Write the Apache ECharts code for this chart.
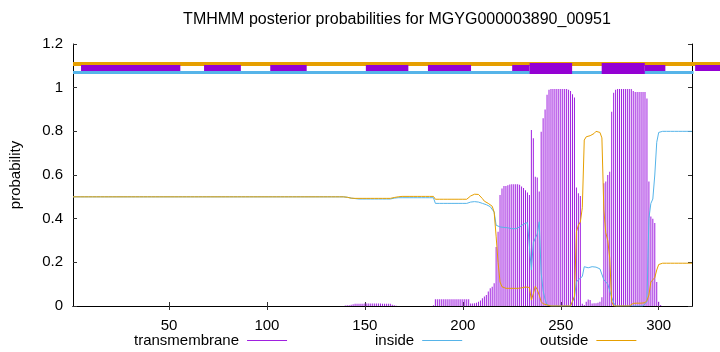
<!DOCTYPE html>
<html>
<head>
<meta charset="utf-8">
<script src="https://cdn.jsdelivr.net/npm/echarts@6/dist/echarts.min.js"></script>
<style>
  html, body { margin: 0; padding: 0; background: #fff; }
  #main { width: 720px; height: 352px; }
</style>
</head>
<body>
<div id="main"></div>
<script>
// posterior probabilities per residue (1..317)
var tmProb = [
  0,0,0,0,0,0,0,0,0,0,
  0,0,0,0,0,0,0,0,0,0,
  0,0,0,0,0,0,0,0,0,0,
  0,0,0,0,0,0,0,0,0,0,
  0,0,0,0,0,0,0,0,0,0,
  0,0,0,0,0,0,0,0,0,0,
  0,0,0,0,0,0,0,0,0,0,
  0,0,0,0,0,0,0,0,0,0,
  0,0,0,0,0,0,0,0,0,0,
  0,0,0,0,0,0,0,0,0,0,
  0,0,0,0,0,0,0,0,0,0,
  0,0,0,0,0,0,0,0,0,0,
  0,0,0,0,0,0,0,0,0,0,
  0,0,0,0,0,0,0,0,0,0.002,
  0.003,0.004,0.006,0.008,0.01,0.01,0.01,0.01,0.01,0.012,
  0.012,0.012,0.012,0.012,0.012,0.012,0.012,0.012,0.01,0.01,
  0.01,0.01,0.01,0.006,0.003,0.001,0,0,0,0,
  0,0,0,0,0,0,0,0,0,0,
  0,0,0,0,0.003,0.031,0.031,0.031,0.031,0.031,
  0.031,0.031,0.031,0.031,0.031,0.031,0.031,0.031,0.031,0.031,
  0.031,0.031,0.031,0.012,0.012,0.013,0.015,0.02,0.025,0.035,
  0.043,0.05,0.066,0.081,0.088,0.104,0.27,0.34,0.508,0.538,
  0.55,0.55,0.553,0.557,0.558,0.558,0.558,0.558,0.555,0.547,
  0.54,0.53,0.52,0.508,0.806,0.768,0.592,0.588,0.524,0.798,
  0.86,0.9,0.967,0.99,0.994,0.994,0.994,0.994,0.994,0.994,
  0.994,0.994,0.994,0.99,0.985,0.97,0.955,0.543,0.516,0.504,
  0.01,0.005,0.02,0.03,0.028,0.012,0.013,0.013,0.015,0.02,
  0.04,0.562,0.57,0.6,0.615,0.89,0.977,0.99,0.994,0.994,
  0.994,0.994,0.994,0.994,0.994,0.994,0.985,0.98,0.98,0.98,
  0.98,0.98,0.98,0.95,0.57,0.41,0.4,0.38,0.11,0.02,
  0.005,0,0,0,0,0,0,0,0,0,
  0,0,0,0,0,0,0
];

var insideProb = [
  0.5,0.5,0.5,0.5,0.5,0.5,0.5,0.5,0.5,0.5,
  0.5,0.5,0.5,0.5,0.5,0.5,0.5,0.5,0.5,0.5,
  0.5,0.5,0.5,0.5,0.5,0.5,0.5,0.5,0.5,0.5,
  0.5,0.5,0.5,0.5,0.5,0.5,0.5,0.5,0.5,0.5,
  0.5,0.5,0.5,0.5,0.5,0.5,0.5,0.5,0.5,0.5,
  0.5,0.5,0.5,0.5,0.5,0.5,0.5,0.5,0.5,0.5,
  0.5,0.5,0.5,0.5,0.5,0.5,0.5,0.5,0.5,0.5,
  0.5,0.5,0.5,0.5,0.5,0.5,0.5,0.5,0.5,0.5,
  0.5,0.5,0.5,0.5,0.5,0.5,0.5,0.5,0.5,0.5,
  0.5,0.5,0.5,0.5,0.5,0.5,0.5,0.5,0.5,0.5,
  0.5,0.5,0.5,0.5,0.5,0.5,0.5,0.5,0.5,0.5,
  0.5,0.5,0.5,0.5,0.5,0.5,0.5,0.5,0.5,0.5,
  0.5,0.5,0.5,0.5,0.5,0.5,0.5,0.5,0.5,0.5,
  0.5,0.5,0.5,0.5,0.5,0.5,0.5,0.5,0.5,0.5,
  0.498,0.496,0.494,0.493,0.492,0.491,0.49,0.49,0.49,0.49,
  0.49,0.49,0.49,0.49,0.49,0.49,0.49,0.49,0.49,0.49,
  0.49,0.49,0.49,0.492,0.494,0.496,0.496,0.496,0.496,0.496,
  0.496,0.496,0.496,0.496,0.496,0.496,0.496,0.496,0.496,0.496,
  0.496,0.496,0.496,0.496,0.496,0.47,0.47,0.47,0.47,0.47,
  0.47,0.47,0.47,0.47,0.47,0.47,0.47,0.47,0.47,0.47,
  0.47,0.47,0.472,0.476,0.478,0.478,0.477,0.476,0.474,0.47,
  0.467,0.464,0.46,0.455,0.448,0.43,0.37,0.364,0.362,0.362,
  0.36,0.36,0.358,0.356,0.354,0.353,0.354,0.357,0.362,0.37,
  0.375,0.378,0.382,0.386,0.165,0.29,0.31,0.33,0.386,0.15,
  0.07,0.03,0.005,0,0,0,0,0,0,0,
  0,0,0,0,0,0,0.04,0.11,0.12,0.125,
  0.135,0.18,0.175,0.175,0.178,0.18,0.18,0.178,0.175,0.17,
  0.165,0.12,0.11,0.1,0.07,0.04,0.015,0,0,0,
  0,0,0,0,0,0,0,0,0,0,
  0,0,0,0.02,0.4,0.47,0.49,0.6,0.75,0.795,
  0.8,0.8,0.8,0.8,0.8,0.8,0.8,0.8,0.8,0.8,
  0.8,0.8,0.8,0.8,0.8,0.8,0.8
];

var outsideProb = [
  0.5,0.5,0.5,0.5,0.5,0.5,0.5,0.5,0.5,0.5,
  0.5,0.5,0.5,0.5,0.5,0.5,0.5,0.5,0.5,0.5,
  0.5,0.5,0.5,0.5,0.5,0.5,0.5,0.5,0.5,0.5,
  0.5,0.5,0.5,0.5,0.5,0.5,0.5,0.5,0.5,0.5,
  0.5,0.5,0.5,0.5,0.5,0.5,0.5,0.5,0.5,0.5,
  0.5,0.5,0.5,0.5,0.5,0.5,0.5,0.5,0.5,0.5,
  0.5,0.5,0.5,0.5,0.5,0.5,0.5,0.5,0.5,0.5,
  0.5,0.5,0.5,0.5,0.5,0.5,0.5,0.5,0.5,0.5,
  0.5,0.5,0.5,0.5,0.5,0.5,0.5,0.5,0.5,0.5,
  0.5,0.5,0.5,0.5,0.5,0.5,0.5,0.5,0.5,0.5,
  0.5,0.5,0.5,0.5,0.5,0.5,0.5,0.5,0.5,0.5,
  0.5,0.5,0.5,0.5,0.5,0.5,0.5,0.5,0.5,0.5,
  0.5,0.5,0.5,0.5,0.5,0.5,0.5,0.5,0.5,0.5,
  0.5,0.5,0.5,0.5,0.5,0.5,0.5,0.5,0.5,0.5,
  0.498,0.496,0.494,0.493,0.493,0.493,0.493,0.493,0.493,0.493,
  0.493,0.493,0.493,0.493,0.493,0.493,0.493,0.493,0.493,0.493,
  0.493,0.493,0.493,0.495,0.497,0.499,0.5,0.501,0.502,0.502,
  0.502,0.502,0.502,0.502,0.502,0.502,0.502,0.502,0.502,0.502,
  0.502,0.502,0.502,0.502,0.502,0.489,0.489,0.489,0.489,0.489,
  0.489,0.489,0.489,0.489,0.489,0.489,0.489,0.489,0.489,0.489,
  0.489,0.489,0.495,0.504,0.51,0.512,0.512,0.511,0.505,0.492,
  0.48,0.475,0.47,0.465,0.457,0.43,0.32,0.2,0.11,0.088,
  0.082,0.081,0.081,0.081,0.081,0.081,0.081,0.081,0.081,0.083,
  0.085,0.087,0.088,0.085,0.027,0.057,0.09,0.075,0.05,0.02,
  0.01,0.007,0.005,0,0,0,0,0,0,0,
  0,0,0,0,0,0.005,0.045,0.34,0.37,0.385,
  0.45,0.76,0.775,0.778,0.78,0.785,0.79,0.8,0.8,0.795,
  0.77,0.44,0.335,0.3,0.22,0.02,0,0,0,0,
  0,0,0,0,0,0,0.012,0.013,0.013,0.013,
  0.013,0.013,0.015,0.025,0.05,0.11,0.12,0.13,0.165,0.19,
  0.196,0.196,0.196,0.196,0.196,0.196,0.196,0.196,0.196,0.196,
  0.196,0.196,0.196,0.196,0.196,0.196,0.196
];

// topology strip at the top: [from, to] in residues
var outsideBand = [[1, 331.3]];
var insideBand = [[1, 317.8]];
var tmBandThin = [[5.1, 55.8], [67.9, 86.7], [101.7, 120.3], [150.5, 172.2],
                  [182.2, 204.2], [225.2, 234.1], [292.9, 303.4], [318.6, 331.3]];
var tmBandThick = [[234.1, 255.8], [270.9, 292.9]];

var xTicks = [50, 100, 150, 200, 250, 300];
var seqLength = 317;

var FONT = 'Liberation Sans, Arial, Helvetica, sans-serif';

function pairs(arr) {
    return arr.map(function (v, i) { return [i + 1, v]; });
}
function band(segs, y) {
    return segs.map(function (s) { return { coords: [[s[0], y], [s[1], y]] }; });
}

var chart = echarts.init(document.getElementById('main'));

var tickStyle = { show: true, inside: true, length: 4, lineStyle: { color: '#333', width: 1 } };

chart.setOption({
    animation: false,
    backgroundColor: '#fff',
    textStyle: { fontFamily: FONT },
    grid: { left: 73, right: 28, top: 44, bottom: 46 },
    graphic: [{
        type: 'text',
        x: 397, y: 20,
        style: {
            text: 'TMHMM posterior probabilities for MGYG000003890_00951',
            textAlign: 'center', textVerticalAlign: 'middle',
            font: '16px ' + FONT, fill: '#000'
        }
    }],
    legend: [
        { data: ['transmembrane'], left: 134 },
        { data: ['inside'], left: 375 },
        { data: ['outside'], left: 540 }
    ].map(function (l) {
        return Object.assign({
            top: 333, align: 'right', icon: 'rect', itemWidth: 40, itemHeight: 1,
            selectedMode: false, padding: 0,
            textStyle: { fontSize: 15, color: '#000', fontFamily: FONT, padding: [0, 3, 0, 0] }
        }, l);
    }),
    xAxis: [{
        type: 'value', min: 1, max: seqLength, position: 'bottom',
        axisLine: { lineStyle: { color: '#000', width: 1 } },
        axisTick: Object.assign({ customValues: xTicks }, tickStyle),
        axisLabel: { customValues: xTicks, color: '#000', fontSize: 15, margin: 12 },
        splitLine: { show: false }
    }, {
        type: 'value', min: 1, max: seqLength, position: 'top',
        axisLine: { lineStyle: { color: '#000', width: 1 } },
        axisTick: Object.assign({ customValues: xTicks }, tickStyle),
        axisLabel: { show: false },
        splitLine: { show: false }
    }],
    yAxis: [{
        type: 'value', min: 0, max: 1.2, interval: 0.2, position: 'left',
        name: 'probability', nameLocation: 'middle', nameRotate: 90, nameGap: 50,
        nameTextStyle: { fontSize: 15, color: '#000' },
        axisLine: { show: true, lineStyle: { color: '#000', width: 1 } },
        axisTick: tickStyle,
        axisLabel: { color: '#000', fontSize: 15, margin: 10 },
        splitLine: { show: false }
    }, {
        type: 'value', min: 0, max: 1.2, interval: 0.2, position: 'right',
        axisLine: { show: true, lineStyle: { color: '#000', width: 1 } },
        axisTick: tickStyle,
        axisLabel: { show: false },
        splitLine: { show: false }
    }],
    series: [{
        name: 'transmembrane',
        type: 'bar',
        data: pairs(tmProb),
        barWidth: 1,
        itemStyle: { color: '#a020e0' },
        z: 2
    }, {
        name: 'inside',
        type: 'line',
        data: pairs(insideProb),
        showSymbol: false,
        lineStyle: { color: '#56b4e9', width: 1 },
        itemStyle: { color: '#56b4e9' },
        z: 3
    }, {
        name: 'outside',
        type: 'line',
        data: pairs(outsideProb),
        showSymbol: false,
        lineStyle: { color: '#e69f00', width: 1 },
        itemStyle: { color: '#e69f00' },
        z: 4
    }, {
        type: 'lines', coordinateSystem: 'cartesian2d', clip: false,
        data: band(outsideBand, 1.109),
        lineStyle: { color: '#e69f00', width: 4, opacity: 1 },
        z: 5
    }, {
        type: 'lines', coordinateSystem: 'cartesian2d', clip: false,
        data: band(insideBand, 1.069),
        lineStyle: { color: '#56b4e9', width: 3, opacity: 1 },
        z: 5
    }, {
        type: 'lines', coordinateSystem: 'cartesian2d', clip: false,
        data: band(tmBandThin, 1.089),
        lineStyle: { color: '#9400d3', width: 6, opacity: 1 },
        z: 6
    }, {
        type: 'lines', coordinateSystem: 'cartesian2d', clip: false,
        data: band(tmBandThick, 1.088),
        lineStyle: { color: '#9400d3', width: 11, opacity: 1 },
        z: 6
    }]
});
</script>
</body>
</html>
